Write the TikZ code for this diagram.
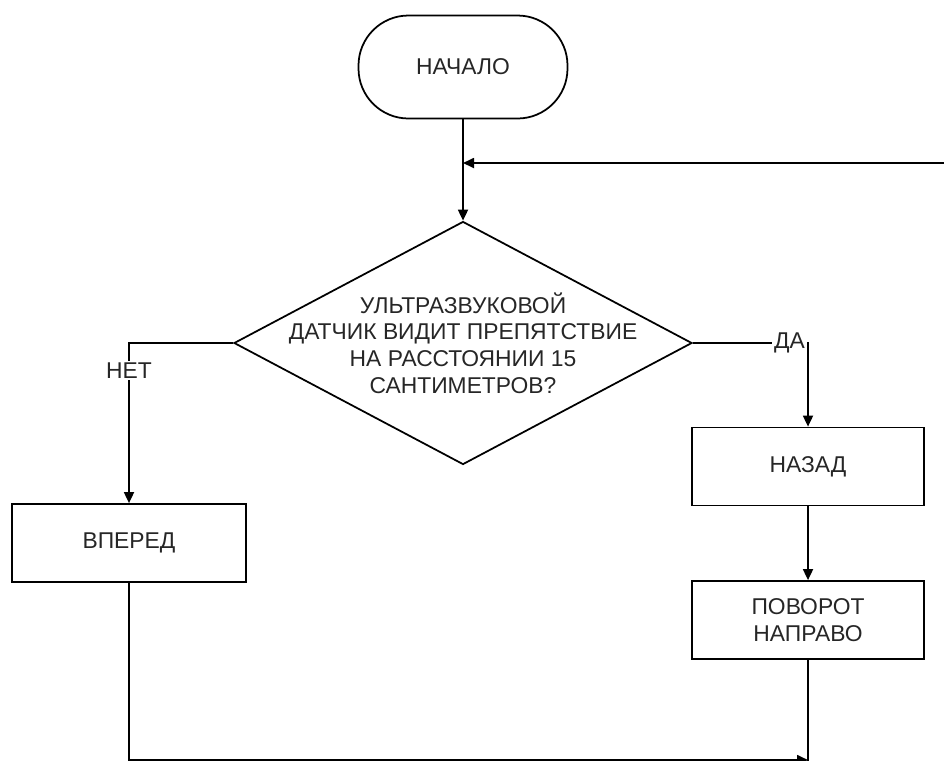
\documentclass[tikz,border=0pt]{standalone}
\usepackage{fontspec}
\setmainfont{Liberation Sans}
\usetikzlibrary{positioning,shapes.geometric,arrows.meta}

\begin{document}
\begin{tikzpicture}[on grid,line width=1pt,
		>={Triangle[length=0.22cm,width=0.2cm]},
		every node/.style={font=\fontsize{13}{15.2}\selectfont,text=black!85},
		terminal/.style={draw,rectangle,rounded corners=1cm,minimum width=4.18cm,minimum height=2.06cm},
		decision/.style={draw,diamond,minimum width=9.16cm,minimum height=4.86cm,inner sep=0pt},
		process/.style={draw,rectangle,minimum width=4.64cm,minimum height=1.56cm,align=center},
		answer/.style={fill=white,inner sep=1pt}]
		\useasboundingbox (0,0) rectangle (18.88,-15.2);
		
		\node[terminal] (start) at (9.26,-1.34) {НАЧАЛО};
		\node[decision] (check) [below=5.52cm of start]
			[label={[align=center]center:УЛЬТРАЗВУКОВОЙ\\ДАТЧИК ВИДИТ ПРЕПЯТСТВИЕ\\НА РАССТОЯНИИ 15\\САНТИМЕТРОВ?}] {};
		\node[process] (nazad) [below right=2.47cm and 6.9cm of check] {НАЗАД};
		\node[process] (povorot) [below=3.07cm of nazad] {ПОВОРОТ\\НАПРАВО};
		\node[process, minimum width=4.68cm] (vpered) [below left=4cm and 6.68cm of check] {ВПЕРЕД};
		
		\coordinate (loopin) at (18.88,-3.26);
		\coordinate (join) at (16.16,-15.2);
		
		\draw[->] (start) -- (check);
		\draw[->] (loopin) -- (loopin -| start.south);
		\draw[->] (check.east) -| node[answer, pos=0.42] {ДА} (nazad.north);
		\draw[->] (check.west) -| node[answer, pos=0.585] {НЕТ} (vpered.north);
		\draw[->] (nazad) -- (povorot);
		\draw (povorot.south) -- (povorot.south |- 0,-15.3);
		\draw[->] (vpered.south) |- (join);
	\end{tikzpicture}
\end{document}
